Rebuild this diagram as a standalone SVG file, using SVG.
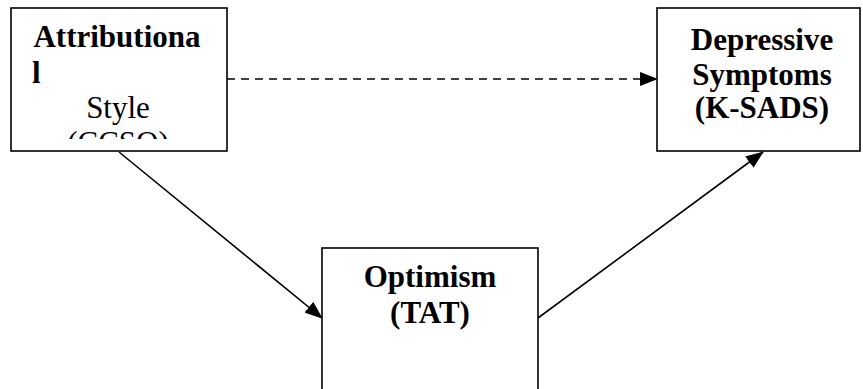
<svg xmlns="http://www.w3.org/2000/svg" width="863" height="389" viewBox="0 0 863 389">
<style>
.box{fill:#fff;stroke:#000;stroke-width:1.6}
text{font-family:'Times New Roman','Liberation Serif','DejaVu Serif',serif;font-size:31px;fill:#000}
.b{font-weight:bold}
.ln{stroke:#000;stroke-width:1.6;fill:none}
</style>
<defs>
<marker id="ah" markerWidth="18" markerHeight="14" refX="17" refY="7" orient="auto" markerUnits="userSpaceOnUse">
<path d="M0,0 L18,7 L0,14 Z" fill="#000"/>
</marker>
<clipPath id="c1"><rect x="12" y="9" width="214" height="130"/></clipPath>
</defs>
<g id="connectors">
<line class="ln" x1="227" y1="79" x2="657" y2="79" stroke-dasharray="8,6" marker-end="url(#ah)"/>
<line class="ln" x1="119" y1="152" x2="322" y2="318" marker-end="url(#ah)"/>
<line class="ln" x1="538" y1="318" x2="763" y2="152" marker-end="url(#ah)"/>
</g>
<g id="node-attributional">
<rect class="box" x="11" y="8" width="216" height="143"/>
<g clip-path="url(#c1)">
<text class="b" x="117" y="47" text-anchor="middle" font-family="Liberation Serif, serif">Attributiona</text>
<text class="b" x="32" y="83" font-family="Liberation Serif, serif">l</text>
<text x="118" y="118" text-anchor="middle" font-family="Liberation Serif, serif">Style</text>
<text x="118" y="153" text-anchor="middle" font-family="Liberation Serif, serif">(CCSQ)</text>
</g>
</g>
<g id="node-depressive">
<rect class="box" x="657" y="8" width="203" height="143"/>
<text class="b" x="762" y="50" text-anchor="middle">Depressive</text>
<text class="b" x="762" y="85" text-anchor="middle">Symptoms</text>
<text class="b" x="762" y="118" text-anchor="middle">(K-SADS)</text>
</g>
<g id="node-optimism">
<rect class="box" x="322" y="248" width="216" height="160"/>
<text class="b" x="430" y="287" text-anchor="middle">Optimism</text>
<text class="b" x="430" y="323" text-anchor="middle">(TAT)</text>
</g>
</svg>
